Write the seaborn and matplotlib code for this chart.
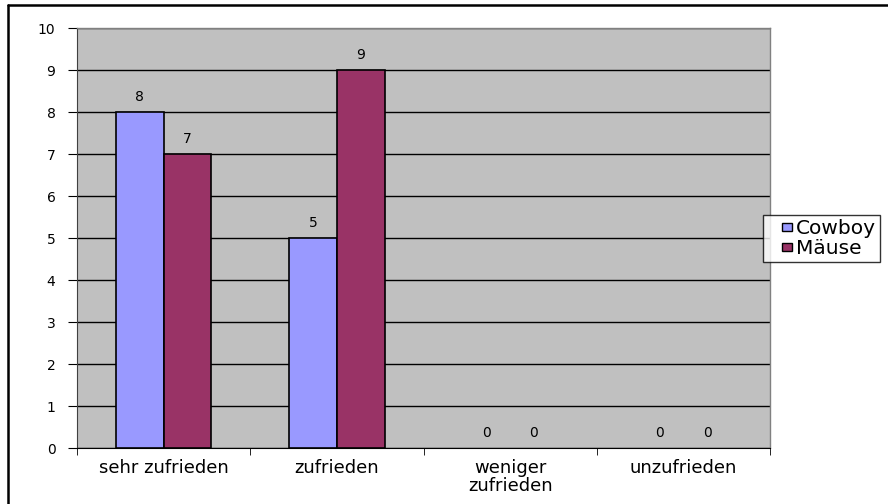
import pandas as pd
import seaborn as sns
import matplotlib.pyplot as plt
import matplotlib.patches as mpatches
from matplotlib.lines import Line2D
from matplotlib.legend_handler import HandlerPatch

categories = ['sehr zufrieden', 'zufrieden', 'weniger\nzufrieden', 'unzufrieden']
cowboy = [8, 5, 0, 0]
maeuse = [7, 9, 0, 0]
series = ['Cowboy', 'Mäuse']

frame = pd.DataFrame({
    'kategorie': categories * 2,
    'wert': cowboy + maeuse,
    'gruppe': [series[0]] * 4 + [series[1]] * 4,
})

sns.set_style('white')
plt.rcParams['font.family'] = ['DejaVu Sans']
plt.rcParams['font.size'] = 10
plt.rcParams['text.color'] = 'black'
plt.rcParams['xtick.color'] = 'black'
plt.rcParams['ytick.color'] = 'black'

fig = plt.figure(figsize=(8.88, 5.04), dpi=100)
ax = fig.add_axes([77 / 888, 1 - 448 / 504, (770 - 77) / 888, (448 - 28) / 504])

pal = {'Cowboy': '#9999FF', 'Mäuse': '#993366'}
sns.barplot(data=frame, x='kategorie', y='wert', hue='gruppe', palette=pal,
            width=0.55, gap=0, edgecolor='black', linewidth=1.2, saturation=1,
            ax=ax, zorder=3)

# empty bars have no visible outline in the original
for p in ax.patches:
    if p.get_height() == 0:
        p.set_linewidth(0)

ax.set_facecolor('#C0C0C0')
ax.set_ylim(0, 10)
ax.set_xlim(-0.5, 3.5)
ax.set_yticks(range(0, 11))
ax.yaxis.grid(True, color='black', linewidth=1)
ax.set_axisbelow(True)
ax.set_xlabel('')
ax.set_ylabel('')

for c in ax.containers:
    ax.bar_label(c, padding=5.5, fontsize=10, color='black')

# ticks at category boundaries like Excel
ax.set_xticks(range(4))
ax.set_xticklabels(categories, fontsize=13, linespacing=1.0)
ax.tick_params(axis='x', which='major', length=0, pad=8, labelcolor='black')
ax.set_xticks([-0.5, 0.5, 1.5, 2.5, 3.5], minor=True)
ax.tick_params(axis='x', which='minor', length=5, direction='out', color='black', bottom=True)
ax.tick_params(axis='y', length=6.5, direction='out', color='black', left=True, pad=9,
               labelsize=10, labelcolor='black')

for s in ['top', 'right']:
    ax.spines[s].set_color('#808080')
    ax.spines[s].set_linewidth(1)
ax.spines['left'].set_color('#404040')
ax.spines['bottom'].set_color('black')


def small_square(legend, orig_handle, xdescent, ydescent, width, height, fontsize):
    w = 0.52 * fontsize
    h = 0.38 * fontsize
    return mpatches.Rectangle((width - w - xdescent, (height - h) / 2 - ydescent), w, h)


ax.legend(loc='upper left', bbox_to_anchor=(763 / 888, 1 - 215 / 504), bbox_transform=fig.transFigure,
          frameon=True, fancybox=False, edgecolor='black', fontsize=14.5,
          handlelength=1.25, handleheight=0.65, handletextpad=0.2, borderpad=0.2,
          labelspacing=0.05, borderaxespad=0,
          handler_map={mpatches.Rectangle: HandlerPatch(patch_func=small_square)})
leg = ax.get_legend()
leg.get_frame().set_linewidth(1)
for t in leg.get_texts():
    t.set_color('black')
for h in leg.legend_handles:
    h.set_edgecolor('black')
    h.set_linewidth(1)

# outer chart border (top and left visible)
fig.add_artist(Line2D([8 / 888, 1], [1 - 5 / 504, 1 - 5 / 504], color='black', linewidth=1.8, transform=fig.transFigure))
fig.add_artist(Line2D([8 / 888, 8 / 888], [0, 1 - 5 / 504], color='black', linewidth=1.8, transform=fig.transFigure))

plt.savefig('out.png', dpi=100)
